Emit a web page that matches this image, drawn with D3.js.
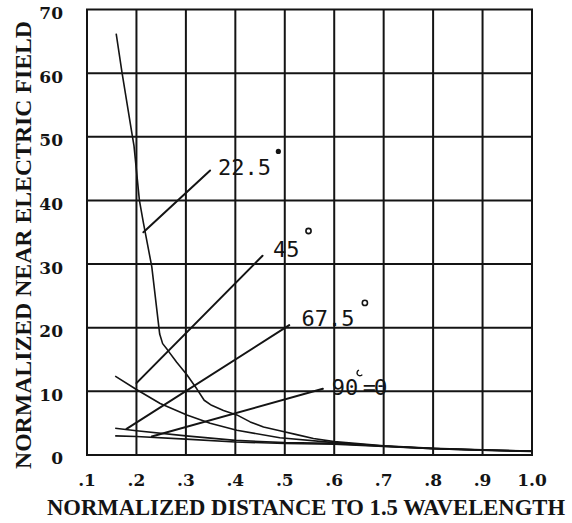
<!DOCTYPE html>
<html>
<head>
<meta charset="utf-8">
<script src="https://cdn.jsdelivr.net/npm/d3@7"></script>
<style>
  html, body { margin: 0; padding: 0; background: #fff; }
  svg { display: block; }
</style>
</head>
<body>
<svg id="chart" width="572" height="523"></svg>
<script>
// Normalized near electric field versus normalized distance, one curve per angle θ.
const xTickValues = [0.1, 0.2, 0.3, 0.4, 0.5, 0.6, 0.7, 0.8, 0.9, 1.0];
const xTickLabels = [".1", ".2", ".3", ".4", ".5", ".6", ".7", ".8", ".9", "1.0"];
const yTickValues = [0, 10, 20, 30, 40, 50, 60, 70];

// [distance, field] pairs
const theta22_5 = [[0.159, 66.2], [0.171, 60], [0.192, 50], [0.195, 48.6], [0.206, 40], [0.214, 36.5],
  [0.231, 29.6], [0.247, 19.0], [0.253, 17.5], [0.262, 16.6], [0.281, 14.6], [0.302, 12.6],
  [0.322, 10.4], [0.337, 8.6], [0.352, 7.8], [0.376, 7.0], [0.403, 6.3], [0.43, 5.2],
  [0.457, 4.4], [0.49, 3.8], [0.524, 3.2], [0.558, 2.6], [0.6, 2.1], [0.7, 1.45],
  [0.8, 1.05], [0.9, 0.8], [1.0, 0.62]];
const theta45 = [[0.157, 12.4], [0.2, 10.3], [0.248, 8.1], [0.302, 6.3], [0.349, 5.0], [0.403, 3.9],
  [0.49, 2.7], [0.6, 1.95], [0.7, 1.42], [0.8, 1.03], [0.9, 0.78], [1.0, 0.6]];
const theta67_5 = [[0.157, 4.2], [0.2, 3.8], [0.3, 3.0], [0.4, 2.3], [0.5, 1.95], [0.6, 1.82],
  [0.7, 1.38], [0.8, 1.0], [0.9, 0.76], [1.0, 0.58]];
const theta90 = [[0.157, 3.0], [0.2, 2.9], [0.3, 2.5], [0.4, 2.05], [0.5, 1.8], [0.6, 1.7],
  [0.7, 1.35], [0.8, 0.98], [0.9, 0.74], [1.0, 0.56]];

// Angle labels: leader line from the curve to the text, text anchor, degree mark
const angleLabels = [
  { text: "22.5", from: [0.214, 35.0], to: [0.349, 44.7], at: [0.365, 44.0], deg: [0.487, 47.7], degStyle: "dot" },
  { text: "45", from: [0.2, 11.3], to: [0.455, 31.3], at: [0.476, 31.1], deg: [0.548, 35.2], degStyle: "ring" },
  { text: "67.5", from: [0.18, 4.1], to: [0.509, 20.4], at: [0.534, 20.2], deg: [0.662, 23.9], degStyle: "ring" },
  { text: "90", from: [0.231, 2.9], to: [0.577, 10.4], at: [0.595, 9.4], deg: [0.652, 12.9], degStyle: "hook", suffix: "=Θ" }
];

const ink = "#141414";
const svg = d3.select("#chart");
svg.append("rect").attr("width", 572).attr("height", 523).attr("fill", "#fff");

const x = d3.scaleLinear().domain([0.1, 1.0]).range([87, 532]);
const y = d3.scaleLinear().domain([0, 70]).range([455, 9.5]);

const plot = svg.append("g");

// grid (also forms the frame)
plot.append("g").selectAll("line").data(xTickValues).join("line")
  .attr("x1", d => x(d)).attr("x2", d => x(d))
  .attr("y1", y(0)).attr("y2", y(70))
  .attr("stroke", ink).attr("stroke-width", 2);
plot.append("g").selectAll("line").data(yTickValues).join("line")
  .attr("x1", x(0.1) - 1).attr("x2", x(1.0) + 1)
  .attr("y1", d => y(d)).attr("y2", d => y(d))
  .attr("stroke", ink).attr("stroke-width", 2);

// tick labels
const tickFont = "'DejaVu Serif', serif";
const titleFont = "'Liberation Serif', 'Times New Roman', serif";
svg.append("g").selectAll("text").data(xTickValues).join("text")
  .attr("x", d => x(d)).attr("y", 486)
  .attr("text-anchor", "middle")
  .attr("font-family", tickFont).attr("font-weight", "bold").attr("font-size", 17)
  .attr("fill", ink)
  .text((d, i) => xTickLabels[i]);
svg.append("g").selectAll("text").data(yTickValues).join("text")
  .attr("x", 63).attr("y", d => y(d) + 3.5)
  .attr("dy", "0.35em")
  .attr("text-anchor", "end")
  .attr("font-family", tickFont).attr("font-weight", "bold").attr("font-size", 17)
  .attr("fill", ink)
  .text(d => d);

// axis titles
svg.append("text")
  .attr("x", 47).attr("y", 515)
  .attr("textLength", 518).attr("lengthAdjust", "spacingAndGlyphs")
  .attr("font-family", titleFont).attr("font-weight", "bold").attr("font-size", 23)
  .attr("fill", ink)
  .text("NORMALIZED DISTANCE TO 1.5 WAVELENGTH");
svg.append("text")
  .attr("transform", "translate(31,469) rotate(-90)")
  .attr("x", 0).attr("y", 0)
  .attr("textLength", 448).attr("lengthAdjust", "spacingAndGlyphs")
  .attr("font-family", titleFont).attr("font-weight", "bold").attr("font-size", 23)
  .attr("fill", ink)
  .text("NORMALIZED NEAR ELECTRIC FIELD");

// curves
const line = d3.line().x(d => x(d[0])).y(d => y(d[1])).curve(d3.curveLinear);
[theta22_5, theta45, theta67_5, theta90].forEach(series => {
  plot.append("path").datum(series)
    .attr("d", line)
    .attr("fill", "none").attr("stroke", ink)
    .attr("stroke-width", 1.6).attr("stroke-linejoin", "round");
});

// angle labels
const labelFont = "'DejaVu Sans Mono', monospace";
angleLabels.forEach(l => {
  plot.append("line")
    .attr("x1", x(l.from[0])).attr("y1", y(l.from[1]))
    .attr("x2", x(l.to[0])).attr("y2", y(l.to[1]))
    .attr("stroke", ink).attr("stroke-width", 2).attr("stroke-linecap", "round");
  plot.append("text")
    .attr("x", x(l.at[0])).attr("y", y(l.at[1]))
    .attr("font-family", labelFont).attr("font-size", 22)
    .attr("fill", ink)
    .text(l.text);
  const cx = x(l.deg[0]), cy = y(l.deg[1]);
  if (l.degStyle === "dot") {
    plot.append("circle").attr("cx", cx).attr("cy", cy).attr("r", 2.6).attr("fill", ink);
  } else if (l.degStyle === "ring") {
    plot.append("circle").attr("cx", cx).attr("cy", cy).attr("r", 2.6)
      .attr("fill", "none").attr("stroke", ink).attr("stroke-width", 1.6);
  } else {
    const arc = d3.arc().innerRadius(2.2).outerRadius(3.6)
      .startAngle(-Math.PI * 0.1).endAngle(-Math.PI * 0.9 - Math.PI * 0.4);
    plot.append("path").attr("d", arc).attr("transform", `translate(${cx},${cy})`).attr("fill", ink);
  }
  if (l.suffix) {
    plot.append("text")
      .attr("x", x(l.at[0]) + 31).attr("y", y(l.at[1]))
      .attr("font-family", labelFont).attr("font-size", 22)
      .attr("letter-spacing", -2)
      .attr("fill", ink)
      .text(l.suffix);
  }
});
</script>
</body>
</html>
